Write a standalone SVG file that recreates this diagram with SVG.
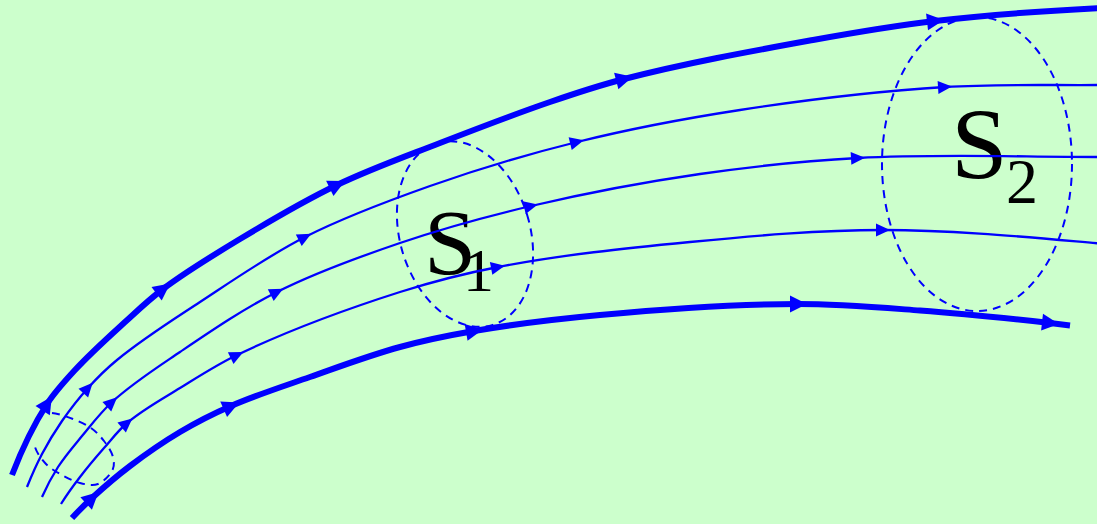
<svg xmlns="http://www.w3.org/2000/svg" width="1097" height="524" viewBox="0 0 1097 524">
<style>
.bg{fill:#CCFFCC}
.thin{fill:none;stroke:#0000FF;stroke-width:2.3;marker-end:url(#ahThin)}
.thick{fill:none;stroke:#0000FF;stroke-width:6;marker-end:url(#ahThick)}
.thin.last,.thick.last{marker-end:none}
.surf{fill:none;stroke:#0000FF;stroke-width:2;stroke-dasharray:8 6}
.lbl{font-family:"Liberation Serif","Times New Roman",serif;fill:#000}
</style>
<defs>
<marker id="ahThin" markerUnits="userSpaceOnUse" markerWidth="14" markerHeight="13" refX="7" refY="6.5" orient="auto" overflow="visible"><path d="M0,0 L14,6.5 L0,13 Z" fill="#0000FF"/></marker>
<marker id="ahThick" markerUnits="userSpaceOnUse" markerWidth="17" markerHeight="17" refX="8" refY="8.5" orient="auto" overflow="visible"><path d="M0,0 L17,8.5 L0,17 Z" fill="#0000FF"/></marker>
</defs>
<rect class="bg" x="0" y="0" width="1097" height="524"/>

<g id="surface-small">
<path class="surf" d="M52,413 C57.5,413.5 66.5,416.5 73,419 S85.8,424.3 91,428 S100.3,436.2 104,441 S111.7,452 113,457 S114.5,466.5 112,471 S103.3,482 98,484 S86,484.5 80,483 S67.7,478.2 62,475 S50.5,468.7 46,464 S36.7,452.7 35,447"/>
</g>

<g id="surface-S1">
<ellipse class="surf" cx="465" cy="234" rx="65" ry="95" transform="rotate(-17 465 234)"/>
<text class="lbl" x="424" y="273.5" font-size="94">S<tspan x="463" y="291" font-size="62">1</tspan></text>
</g>

<g id="surface-S2">
<ellipse class="surf" cx="977" cy="164" rx="95" ry="147"/>
<text class="lbl" x="951" y="178.5" font-size="102">S<tspan x="1006" y="203" font-size="64">2</tspan></text>
</g>

<g id="field-lines">
<g id="line-1">
<path class="thick" d="M12,475 C21.5,450.3 32.7,426.2 47,404"/>
<path class="thick" d="M47,404 C55,391.7 65,380.8 75,370 C90.7,353 107.9,337.6 125,322 C137.4,310.7 149.6,299.1 163,289"/>
<path class="thick" d="M163,289 C187.5,270.6 213.8,254.8 240,239 C271.7,219.9 303.6,201 337,185"/>
<path class="thick" d="M337,185 C370.4,169 405.5,156.5 440,143 C476.5,128.8 513,114.7 550,102 C574.4,93.6 599,85.5 624,79"/>
<path class="thick" d="M624,79 C686.3,62.9 749.7,51.5 813,40 C853.5,32.7 894.1,25.8 935,21"/>
<path class="thick last" d="M935,21 C989.8,14.5 1044.9,10.9 1100,8"/>
</g>
<g id="line-2">
<path class="thin" d="M27,487 C31.5,475.8 36.4,464.7 42,454 C48,442.6 54.7,431.6 62,421 C70,409.5 78.6,398.4 88,388"/>
<path class="thin" d="M88,388 C97,378 106.6,368.5 117,360 C143.1,338.5 171.8,320.6 200,302 C234.4,279.4 268.3,255.7 305,237"/>
<path class="thin" d="M305,237 C345.1,216.6 387.6,201 430,186 C478.2,169 527.3,154.3 577,142"/>
<path class="thin" d="M577,142 C630.8,128.7 685.3,118.4 740,110 C807.9,99.5 876.4,91.3 945,87"/>
<path class="thin last" d="M945,87 C996.6,83.8 1048.3,85.4 1100,85"/>
</g>
<g id="line-3">
<path class="thin" d="M42,497 C46.6,486.6 51.9,476.5 58,467 C65.1,456 73.7,446.1 82,436 C91.6,424.4 100.9,412.2 112,402"/>
<path class="thin" d="M112,402 C132.8,383 156.7,367.8 180,352 C211.5,330.7 243.1,309.1 277,292"/>
<path class="thin" d="M277,292 C316.4,272.1 358.2,257.2 400,243 C443,228.4 486.9,216.4 531,206"/>
<path class="thin" d="M531,206 C586.8,192.9 643.2,182.2 700,174 C752.4,166.4 805.1,160.8 858,158"/>
<path class="thin last" d="M858,158 C938.6,153.7 1019.3,157 1100,157"/>
</g>
<g id="line-4">
<path class="thin" d="M61,504 C66.8,494.7 73.3,485.7 80,477 C87.6,467 95.7,457.5 104,448 C111.5,439.5 118.4,430.3 127,423"/>
<path class="thin" d="M127,423 C143.1,409.3 162,399.1 180,388 C198.7,376.5 217.2,364.5 237,355"/>
<path class="thin" d="M237,355 C289.5,329.8 344.5,309.7 400,292 C432.1,281.8 464.9,273.4 498,267"/>
<path class="thin" d="M498,267 C561.4,254.8 625.8,248.2 690,242 C754.1,235.8 818.5,230 883,230"/>
<path class="thin last" d="M883,230 C955.5,230 1027.8,237.2 1100,243.5"/>
</g>
<g id="line-5">
<path class="thick" d="M72,518 C78.4,511.1 85.1,504.4 92,498"/>
<path class="thick" d="M92,498 C104.2,486.8 116.8,476 130,466 C146.1,453.8 162.7,442.3 180,432 C196.4,422.3 213.5,413.6 231,406"/>
<path class="thick" d="M231,406 C256.7,394.8 283.5,386.3 310,377 C339.9,366.5 369.5,355.3 400,347 C424.3,340.3 449.1,335.3 474,331"/>
<path class="thick" d="M474,331 C515.7,323.8 557.8,318.9 600,315 C665.8,309 731.9,304.1 798,304"/>
<path class="thick" d="M798,304 C838.7,304 879.4,307.5 920,310.5 C963.4,313.7 1006.7,318.2 1050,323"/>
<path class="thick last" d="M1050,323 L1070,325.5"/>
</g>
</g>
</svg>
